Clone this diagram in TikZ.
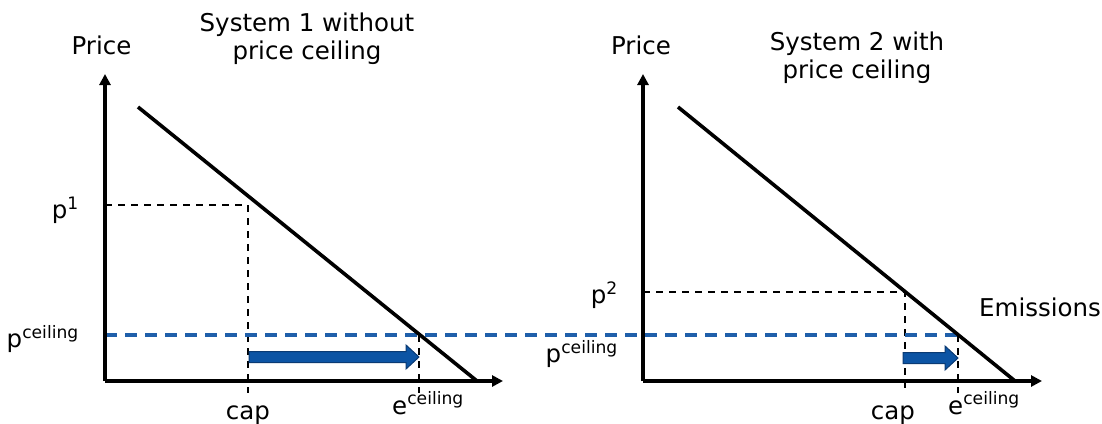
\documentclass[tikz,border=0pt]{standalone}
\usepackage{fontspec}
\setmainfont{DejaVu Sans}
\usetikzlibrary{arrows.meta}
\definecolor{ceilblue}{RGB}{31,95,170}
\definecolor{arrowblue}{RGB}{12,84,164}
\definecolor{arrowedge}{RGB}{10,58,115}
\begin{document}
\begin{tikzpicture}[x=1pt,y=-1pt,
  lbl/.style={inner sep=0pt, font=\fontsize{24.5}{28}\selectfont, text=black},
  axis/.style={line width=3.6pt, -{Triangle[length=11pt,width=11pt]}},
  demand/.style={line width=3.6pt},
  guide/.style={line width=2.3pt, dash pattern=on 7pt off 6pt},
  ceil/.style={line width=3.4pt, ceilblue, dash pattern=on 12pt off 8pt},
  shiftarrow/.style={fill=arrowblue, draw=arrowedge, line width=1pt, line join=miter}]
\useasboundingbox (0,0) rectangle (1102,423);

% ---------- coordinates, chart 1
\coordinate (O1) at (105,381);
\coordinate (Y1) at (105,74);
\coordinate (X1) at (503,381);
\coordinate (D1a) at (138,107);
\coordinate (D1b) at (477,381);
\coordinate (P1a) at (105,205);
\coordinate (P1b) at (248,205);
\coordinate (C1) at (248,393);
\coordinate (E1a) at (419,335);
\coordinate (E1b) at (419,393);
\coordinate (PC1) at (105,335);

% ---------- coordinates, chart 2
\coordinate (O2) at (643,381);
\coordinate (Y2) at (643,74);
\coordinate (X2) at (1042,381);
\coordinate (D2a) at (678,107);
\coordinate (D2b) at (1015,381);
\coordinate (P2a) at (643,292);
\coordinate (P2b) at (905,292);
\coordinate (C2) at (905,393);
\coordinate (E2a) at (958,335);
\coordinate (E2b) at (958,393);

% ---------- guides
\draw[guide] (P1a) -- (P1b) -- (C1);
\draw[guide] (E1a) -- (E1b);
\draw[guide] (P2a) -- (P2b) -- (C2);
\draw[guide] (E2a) -- (E2b);
\draw[ceil] (PC1) -- (E2a);

% ---------- axes and demand lines
\draw[axis] (O1) -- (Y1);
\draw[axis] (O1) -- (X1);
\draw[demand] (D1a) -- (D1b);
\draw[axis] (O2) -- (Y2);
\draw[axis] (O2) -- (X2);
\draw[demand] (D2a) -- (D2b);

% ---------- blue shift arrows
\draw[shiftarrow] (249,351.5) -- (406,351.5) -- (406,345) -- (419,357) -- (406,369) -- (406,362.5) -- (249,362.5) -- cycle;
\draw[shiftarrow] (903,352.5) -- (945,352.5) -- (945,346) -- (958,358) -- (945,370) -- (945,363.5) -- (903,363.5) -- cycle;

% ---------- labels
\node[lbl] (price1) at (101.5,45) {Price};
\node[lbl, align=center] (title1) at (307,39) {System 1 without\\price ceiling};
\node[lbl] (price2) at (641,45) {Price};
\node[lbl, align=center] (title2) at (857,58) {System 2 with\\price ceiling};
\node[lbl, anchor=east] (p1) at (79,210) {p\textsuperscript{1}};
\node[lbl, anchor=east] (pc1) at (79,339) {p\textsuperscript{ceiling}};
\node[lbl, anchor=base] (cap1) at (248,419) {cap};
\node[lbl, anchor=base west] (ec1) at (392,414) {e\textsuperscript{ceiling}};
\node[lbl, anchor=east] (p2) at (618,295) {p\textsuperscript{2}};
\node[lbl, anchor=east] (pc2) at (618,354) {p\textsuperscript{ceiling}};
\node[lbl, anchor=base] (cap2) at (893,419) {cap};
\node[lbl, anchor=base west] (ec2) at (948,414) {e\textsuperscript{ceiling}};
\node[lbl, anchor=west] (emis) at (979,307) {Emissions};
\end{tikzpicture}
\end{document}
